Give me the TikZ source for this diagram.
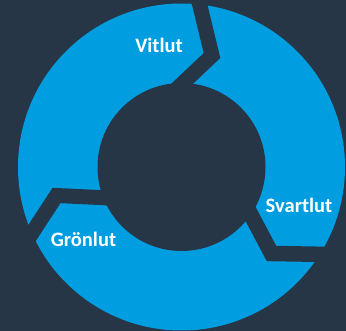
\documentclass[tikz,border=0pt]{standalone}
\usepackage{fontspec}
\setmainfont{Carlito}
\definecolor{bgdark}{RGB}{38,54,70}
\definecolor{ringblue}{RGB}{0,158,224}
\begin{document}
\begin{tikzpicture}[x=1pt,y=-1pt,
  gapline/.style={draw=bgdark,line width=15pt,line join=miter,line cap=butt},
  lbl/.style={text=white,font=\bfseries\fontsize{20.5}{24}\selectfont,anchor=base,inner sep=0pt}]
\fill[bgdark] (0,0) rectangle (346,331);
\useasboundingbox (0,0) rectangle (346,331);
% ring
\fill[ringblue] (181.5,167) circle[radius=163.5];
% gaps between the three arrows
\draw[gapline] (196.4,-8.8) -- (212,55.5) -- (165,100);
\draw[gapline,line width=15.5pt] (240.7,195.4) -- (271.5,253.5) -- (360,255);
\draw[gapline] (120,198.5) -- (56.5,195.5) -- (19,253);
% hole
\fill[bgdark] (181.5,167) circle[radius=84];
% labels
\node[lbl] (vit) at (159,52.7) {Vitlut};
\node[lbl] (svart) at (299,213) {Svartlut};
\node[lbl] (gron) at (83.5,247) {Grönlut};
\end{tikzpicture}
\end{document}
